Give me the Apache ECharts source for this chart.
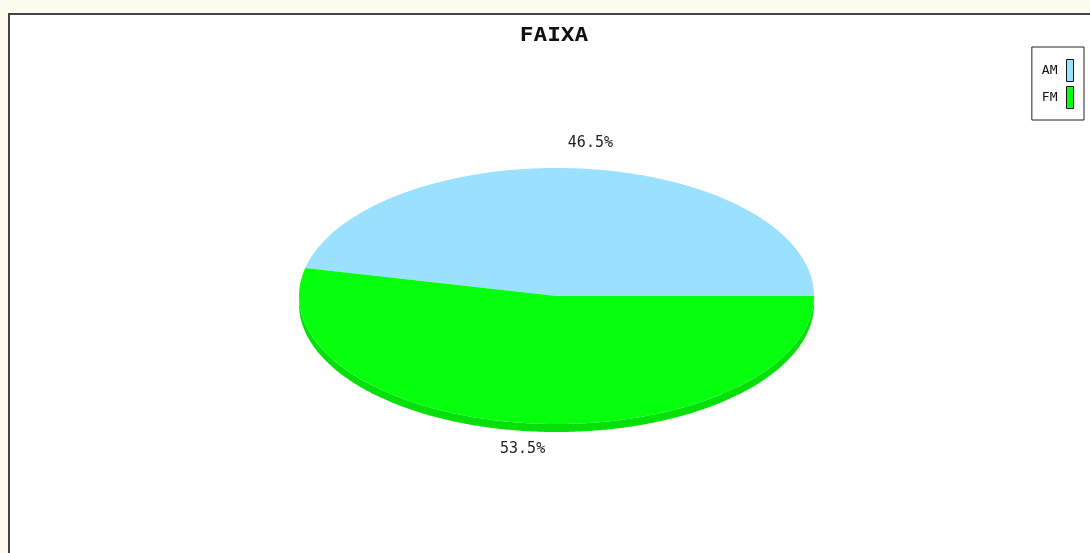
<!DOCTYPE html>
<html lang="pt">
<head>
    <meta charset="UTF-8">
    <title>FAIXA</title>
    <script src="https://cdn.jsdelivr.net/npm/echarts@6/dist/echarts.min.js"></script>
    <style>
        html, body { margin: 0; padding: 0; background: #fefcef; }
        #chart { width: 1090px; height: 553px; }
    </style>
</head>
<body>
<div id="chart"></div>
<script type="text/javascript">
    // dados do grafico
    var categories = ['AM', 'FM'];
    var values = [46.5, 53.5];
    var colors = ['#99e1ff', '#06ff0c'];
    var sideColors = ['#86c6e0', '#05e00a'];

    var total = values.reduce(function (a, b) { return a + b; }, 0);

    // elipse "3d"
    var cx = 556.5, cy = 296, rx = 257.5, ry = 128, depth = 8;
    var mono = '"DejaVu Sans Mono", "Liberation Mono", monospace';

    function pt(deg, k, dy) {
        var r = deg * Math.PI / 180;
        return [cx + rx * k * Math.cos(r), cy - ry * k * Math.sin(r) + (dy || 0)];
    }

    function arc(a0, a1, dy) {
        var pts = [];
        var n = Math.max(2, Math.ceil(Math.abs(a1 - a0) / 0.5));
        for (var i = 0; i <= n; i++) {
            pts.push(pt(a0 + (a1 - a0) * i / n, 1, dy));
        }
        return pts;
    }

    function makeRender(idx) {
        return function (params, api) {
            var start = 0;
            for (var i = 0; i < idx; i++) start += values[i];
            var a0 = start / total * 360;
            var a1 = (start + api.value(0)) / total * 360;
            var children = [];

            // lateral (so metade de baixo aparece)
            var s0 = Math.max(a0, 180), s1 = Math.min(a1, 360);
            if (s1 > s0) {
                var top = arc(s0, s1, 0);
                var bot = arc(s0, s1, depth).reverse();
                children.push({
                    type: 'polygon',
                    shape: { points: top.concat(bot) },
                    style: { fill: sideColors[idx] }
                });
            }

            // face de cima
            children.push({
                type: 'polygon',
                shape: { points: [[cx, cy]].concat(arc(a0, a1, 0)) },
                style: { fill: api.visual('color') }
            });

            // rotulo percentual
            var mid = (a0 + a1) / 2;
            var lp = pt(mid, 1.2, 0);
            children.push({
                type: 'text',
                x: lp[0],
                y: lp[1],
                style: {
                    text: (api.value(0) / total * 100).toFixed(1) + '%',
                    font: '15px ' + mono,
                    fill: '#222',
                    align: 'center',
                    verticalAlign: 'middle'
                }
            });

            return { type: 'group', children: children };
        };
    }

    var series = categories.map(function (name, i) {
        return {
            name: name,
            type: 'custom',
            coordinateSystem: 'none',
            itemStyle: { color: colors[i] },
            renderItem: makeRender(i),
            data: [[values[i]]]
        };
    });

    var myChart = echarts.init(document.getElementById('chart'));

    var option = {
        backgroundColor: '#fefcef',
        animation: false,
        graphic: [
            {
                type: 'rect',
                z: -10,
                shape: { x: 9, y: 14, width: 1200, height: 700 },
                style: { fill: '#ffffff', stroke: '#454545', lineWidth: 2 }
            },
            {
                type: 'text',
                x: 554,
                y: 36,
                scaleX: 1.2,
                style: {
                    text: 'FAIXA',
                    font: 'bold 19px ' + mono,
                    fill: '#111',
                    align: 'center',
                    verticalAlign: 'middle'
                }
            }
        ],
        legend: {
            orient: 'vertical',
            right: 6,
            top: 47,
            align: 'right',
            icon: 'rect',
            itemWidth: 7,
            itemHeight: 22,
            itemGap: 4,
            padding: [12, 10, 11, 10],
            borderColor: '#222',
            borderWidth: 1,
            backgroundColor: '#fff',
            selectedMode: false,
            itemStyle: { borderColor: '#111', borderWidth: 1 },
            textStyle: {
                fontFamily: mono,
                fontSize: 13,
                color: '#111',
                padding: [0, 4, 6, 0]
            },
            data: categories
        },
        series: series
    };
    myChart.setOption(option);
</script>
</body>
</html>
